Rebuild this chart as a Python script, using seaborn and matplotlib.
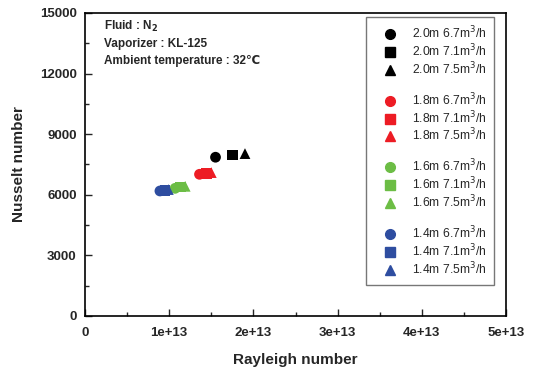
import pandas as pd
import matplotlib.pyplot as plt
import seaborn as sns
from matplotlib.lines import Line2D
from matplotlib.ticker import MultipleLocator

# Data
heights = ["2.0m", "1.8m", "1.6m", "1.4m"]
flows = ["6.7", "7.1", "7.5"]
ra_20 = [1.55e13, 1.75e13, 1.90e13]
nu_20 = [7860, 7970, 8040]
ra_18 = [1.36e13, 1.445e13, 1.50e13]
nu_18 = [7015, 7060, 7100]
ra_16 = [1.07e13, 1.13e13, 1.19e13]
nu_16 = [6320, 6390, 6420]
ra_14 = [0.89e13, 0.95e13, 0.99e13]
nu_14 = [6190, 6225, 6260]

xticks = [0, 1e13, 2e13, 3e13, 4e13, 5e13]
xtick_labels = ["0", "1e+13", "2e+13", "3e+13", "4e+13", "5e+13"]
yticks = [0, 3000, 6000, 9000, 12000, 15000]

colors = {"2.0m": "black", "1.8m": "#ed1c24", "1.6m": "#6cbd45", "1.4m": "#2e4da0"}
markers = {"6.7": "o", "7.1": "s", "7.5": "^"}

rows = []
for h, ras, nus in zip(heights, [ra_20, ra_18, ra_16, ra_14], [nu_20, nu_18, nu_16, nu_14]):
    for f, ra, nu in zip(flows, ras, nus):
        rows.append({"height": h, "flow": f, "Ra": ra, "Nu": nu})
df = pd.DataFrame(rows)

sns.set_style("ticks")
plt.rcParams["font.family"] = ["Liberation Sans", "DejaVu Sans"]

fig = plt.figure(figsize=(5.33, 3.73), dpi=100)
ax = fig.add_axes([85 / 533, 1 - 316 / 373, 421 / 533, 303 / 373])

sns.scatterplot(
    data=df, x="Ra", y="Nu", hue="height", style="flow",
    palette=colors, markers=markers, s=60, linewidth=0, legend=False, ax=ax,
)

ax.set_xlim(0, 5e13)
ax.set_ylim(0, 15000)
ax.set_xticks(xticks)
ax.set_xticklabels(xtick_labels)
ax.set_yticks(yticks)
ax.xaxis.set_minor_locator(MultipleLocator(5e12))
ax.yaxis.set_minor_locator(MultipleLocator(1500))
ax.tick_params(which="both", direction="in", top=False, right=False, width=1)
ax.tick_params(which="major", length=5, labelsize=9.5)
ax.tick_params(which="minor", length=3)
ax.tick_params(axis="x", which="major", pad=8)
ax.tick_params(axis="y", which="major", pad=6)
for lab in ax.get_xticklabels() + ax.get_yticklabels():
    lab.set_fontweight("bold")
for sp in ax.spines.values():
    sp.set_visible(True)
    sp.set_linewidth(1.2)
    sp.set_color("black")

ax.set_xlabel("Rayleigh number", fontsize=11, fontweight="bold", labelpad=10)
ax.set_ylabel("Nusselt number", fontsize=11, fontweight="bold", labelpad=10)

ax.text(0.045, 0.955, "Fluid : N$_\\mathbf{2}$", transform=ax.transAxes,
        fontsize=8.5, fontweight="bold", va="center")
ax.text(0.045, 0.898, "Vaporizer : KL-125", transform=ax.transAxes,
        fontsize=8.5, fontweight="bold", va="center")
ax.text(0.045, 0.842, "Ambient temperature : 32\u2103", transform=ax.transAxes,
        fontsize=8.5, fontweight="bold", va="center")

# Legend with blank rows between groups
handles, labels = [], []
for i, h in enumerate(heights):
    if i > 0:
        handles.append(Line2D([], [], linestyle="none"))
        labels.append("")
    for f in flows:
        handles.append(Line2D([], [], linestyle="none", marker=markers[f],
                              color=colors[h], markersize=7))
        labels.append(f"{h} {f}m$^3$/h")
leg = ax.legend(
    handles, labels, loc="upper left",
    bbox_to_anchor=(366 / 533, 1 - 17 / 373), bbox_transform=fig.transFigure,
    borderaxespad=0, fontsize=8.7, frameon=True, fancybox=False,
    edgecolor="#555555", labelspacing=0.1, handletextpad=0.55,
    borderpad=0.65, handlelength=2.6,
)
leg.get_frame().set_linewidth(1)

fig.savefig("out.png", dpi=100)
